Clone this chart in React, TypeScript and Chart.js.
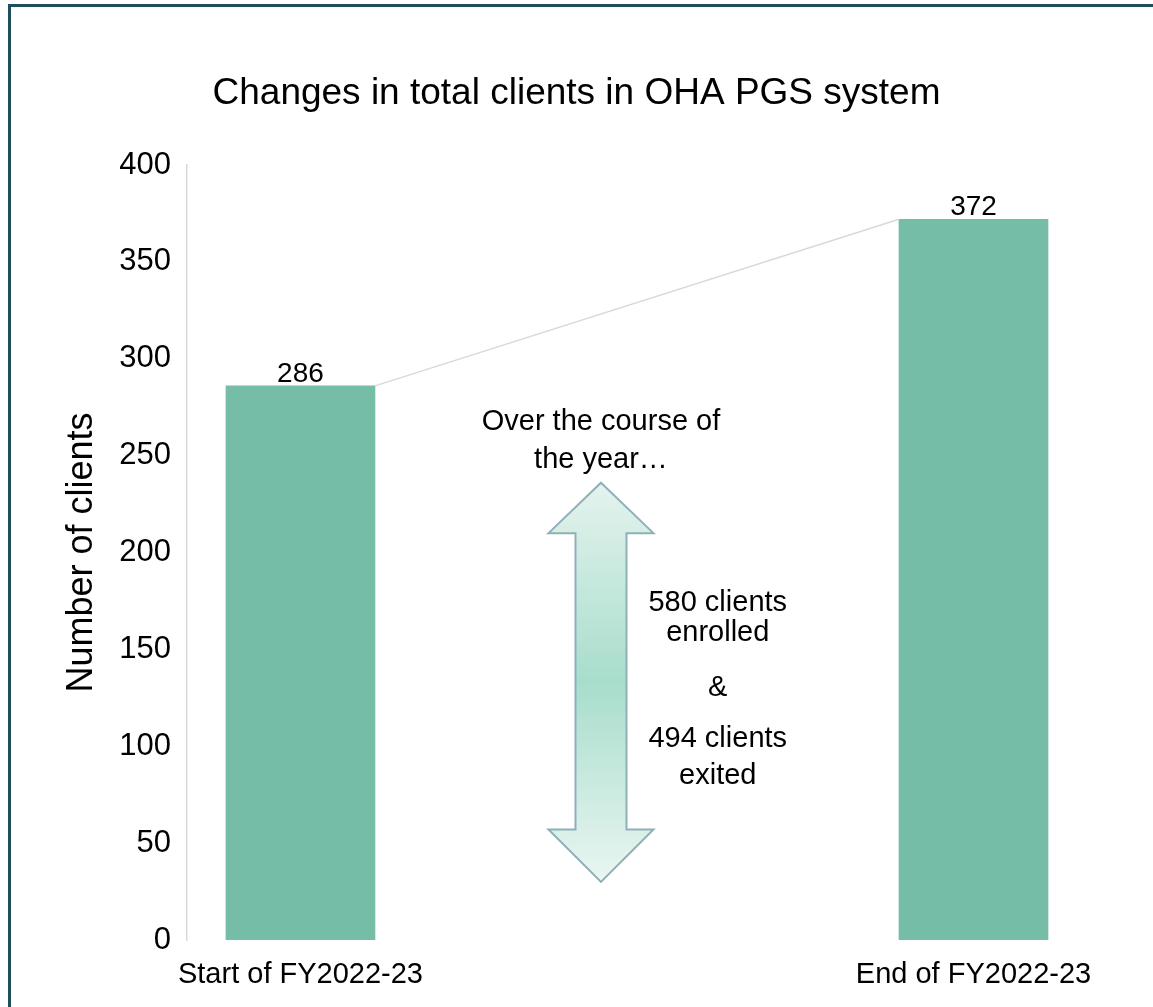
import React, { useEffect, useRef } from "react";
import { Chart, registerables } from "chart.js";

Chart.register(...registerables);

// ---- data ----
const categories = ["Start of FY2022-23", "End of FY2022-23"];
const categoryPositions = [0, 1];
const clientCounts = [286, 372];
const yTickStep = 50;
const yMin = 0;
const yMax = 400;

// ---- annotation text ----
const titleText = "Changes in total clients in OHA PGS system";
const yAxisTitle = "Number of clients";
const courseNote = ["Over the course of", "the year\u2026"];
const courseNoteY = [267.5, 247.5];
const flowNote = ["580 clients", "enrolled", "&", "494 clients", "exited"];
const flowNoteY = [174, 158.5, 130, 104, 84.5];
const flowNoteX = 0.62;

// double arrow, in data units: tip, head base, lower head base, bottom tip
const arrowX = 0.4465;
const arrowYs = [236, 210, 57, 30];

const FONT = '"Liberation Sans", Arial, Helvetica, sans-serif';
const BAR_COLOR = "#76bda8";

const overlayPlugin = {
  id: "overlay",
  afterDatasetsDraw(chart: any) {
    const ctx = chart.ctx as CanvasRenderingContext2D;
    const xs = chart.scales.x;
    const ys = chart.scales.y;
    const bars = chart.getDatasetMeta(0).data as any[];
    ctx.save();

    // connector line between bar tops
    if (bars.length >= 2) {
      const b0 = bars[0];
      const b1 = bars[1];
      ctx.strokeStyle = "#d9d9d9";
      ctx.lineWidth = 1.5;
      ctx.beginPath();
      ctx.moveTo(b0.x + b0.width / 2, b0.y);
      ctx.lineTo(b1.x - b1.width / 2, b1.y);
      ctx.stroke();
    }

    // value labels
    ctx.fillStyle = "#000";
    ctx.font = `28px ${FONT}`;
    ctx.textAlign = "center";
    ctx.textBaseline = "alphabetic";
    bars.forEach((b, i) => {
      ctx.fillText(String(clientCounts[i]), b.x, b.y - 4);
    });

    // double arrow
    const cx = xs.getPixelForValue(arrowX);
    const [vTip, vHeadTop, vHeadBot, vBottom] = arrowYs.map((v) => ys.getPixelForValue(v));
    const shaftHalf = 25.5;
    const headHalf = 52.5;
    const grad = ctx.createLinearGradient(0, vTip, 0, vBottom);
    grad.addColorStop(0, "#e4f3ee");
    grad.addColorStop(0.5, "#a8ddcc");
    grad.addColorStop(1, "#eaf6f2");
    ctx.beginPath();
    ctx.moveTo(cx, vTip);
    ctx.lineTo(cx + headHalf, vHeadTop);
    ctx.lineTo(cx + shaftHalf, vHeadTop);
    ctx.lineTo(cx + shaftHalf, vHeadBot);
    ctx.lineTo(cx + headHalf, vHeadBot);
    ctx.lineTo(cx, vBottom);
    ctx.lineTo(cx - headHalf, vHeadBot);
    ctx.lineTo(cx - shaftHalf, vHeadBot);
    ctx.lineTo(cx - shaftHalf, vHeadTop);
    ctx.lineTo(cx - headHalf, vHeadTop);
    ctx.closePath();
    ctx.fillStyle = grad;
    ctx.fill();
    ctx.strokeStyle = "#8eb0b8";
    ctx.lineWidth = 2;
    ctx.lineJoin = "miter";
    ctx.stroke();

    // notes
    ctx.fillStyle = "#000";
    ctx.font = `29px ${FONT}`;
    ctx.textAlign = "center";
    ctx.textBaseline = "middle";
    courseNote.forEach((t, i) => {
      ctx.fillText(t, cx, ys.getPixelForValue(courseNoteY[i]));
    });
    const fx = xs.getPixelForValue(flowNoteX);
    flowNote.forEach((t, i) => {
      ctx.fillText(t, fx, ys.getPixelForValue(flowNoteY[i]));
    });

    ctx.restore();
  },
};

export default function App() {
  const canvasRef = useRef<HTMLCanvasElement | null>(null);

  useEffect(() => {
    if (!canvasRef.current) return;
    const chart = new Chart(canvasRef.current, {
      type: "bar",
      data: {
        datasets: [
          {
            data: categoryPositions.map((x, i) => ({ x, y: clientCounts[i] })),
            backgroundColor: BAR_COLOR,
            borderWidth: 0,
            barThickness: 149,
          },
        ],
      },
      options: {
        animation: false,
        responsive: false,
        events: [],
        layout: { padding: { left: 0, right: 0, top: 0, bottom: 0 } },
        plugins: {
          legend: { display: false },
          tooltip: { enabled: false },
          title: {
            display: true,
            text: titleText,
            color: "#000",
            font: { family: FONT, size: 37, weight: "normal", lineHeight: 1.2 },
            padding: { top: 72, bottom: 48.6 },
          },
        },
        scales: {
          x: {
            type: "linear",
            offset: false,
            min: -0.1686,
            max: 1.2667,
            grid: { display: false, drawTicks: false, offset: false },
            border: { display: false },
            afterBuildTicks: (scale: any) => {
              scale.ticks = categoryPositions.map((v) => ({ value: v }));
            },
            afterFit: (scale: any) => {
              scale.height = 67;
            },
            ticks: {
              padding: 18,
              color: "#000",
              font: { family: FONT, size: 29 },
              maxRotation: 0,
              autoSkip: false,
              callback: (value: any) => {
                const idx = categoryPositions.indexOf(Number(value));
                return idx >= 0 ? categories[idx] : "";
              },
            },
          },
          y: {
            min: yMin,
            max: yMax,
            grid: { display: false, drawTicks: false },
            border: { display: true, color: "#d9d9d9", width: 1.5 },
            afterFit: (scale: any) => {
              scale.width = 187;
            },
            ticks: {
              stepSize: yTickStep,
              padding: 16,
              color: "#000",
              font: { family: FONT, size: 31 },
            },
            title: {
              display: true,
              text: yAxisTitle,
              color: "#000",
              font: { family: FONT, size: 36, lineHeight: 1.2 },
              padding: { top: 60.5, bottom: 0 },
            },
          },
        },
      },
      plugins: [overlayPlugin],
    });
    return () => chart.destroy();
  }, []);

  return (
    <div
      style={{
        position: "fixed",
        left: 0,
        top: 0,
        width: 1153,
        height: 1007,
        overflow: "hidden",
        background: "#fff",
      }}
    >
      <canvas ref={canvasRef} width={1153} height={1007} style={{ display: "block" }} />
      <div
        style={{
          position: "absolute",
          left: 8,
          top: 4,
          width: 1220,
          height: 1080,
          border: "3px solid #1e4d5e",
          boxSizing: "border-box",
          pointerEvents: "none",
        }}
      />
    </div>
  );
}
